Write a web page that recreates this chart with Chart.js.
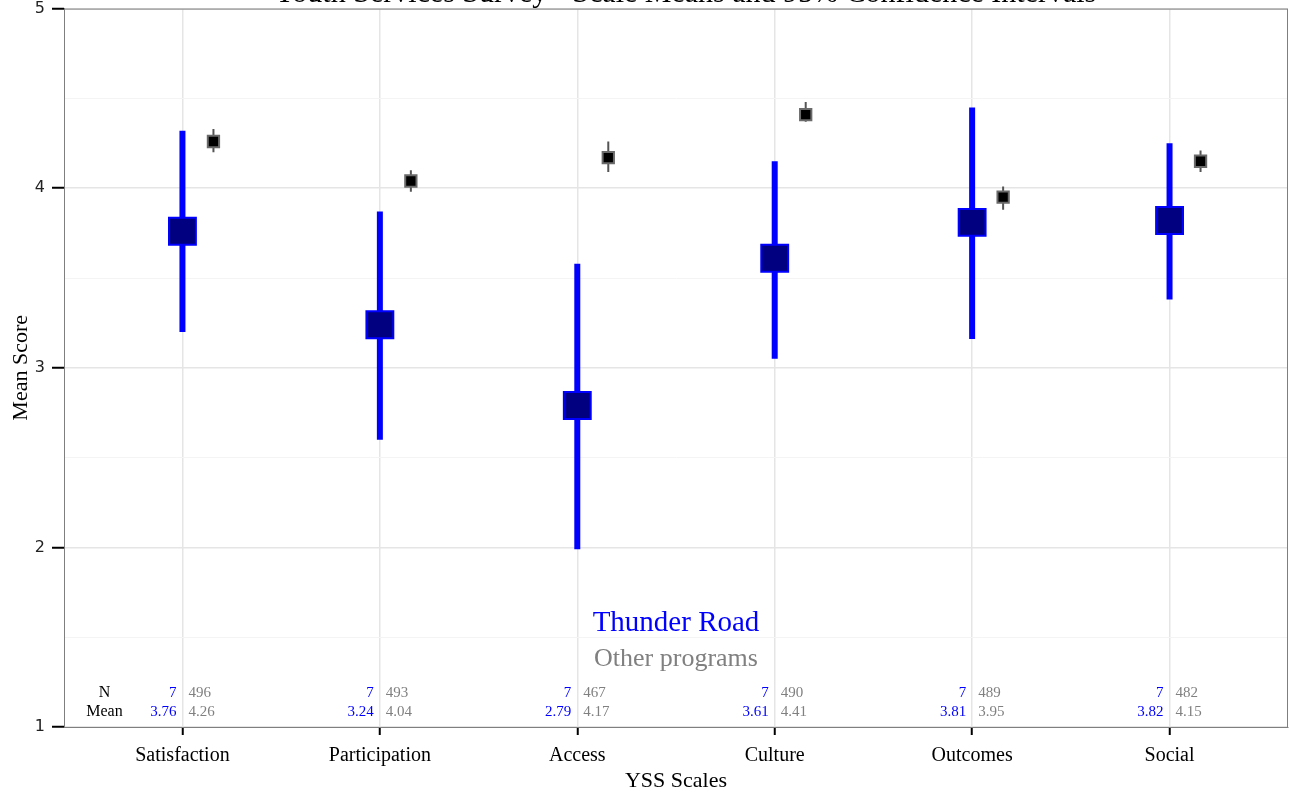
<!DOCTYPE html>
<html>
<head>
<meta charset="utf-8">
<script src="https://cdn.jsdelivr.net/npm/chart.js@4.4.1/dist/chart.umd.min.js"></script>
<style>
  html, body { margin: 0; padding: 0; background: #fff; overflow: hidden; }
  #wrap { width: 1289px; height: 810px; margin-top: -8px; position: relative; }
</style>
</head>
<body>
<div id="wrap"><canvas id="yssChart"></canvas></div>
<script>
const categories = ['Satisfaction', 'Participation', 'Access', 'Culture', 'Outcomes', 'Social'];
const trMean = [3.76, 3.24, 2.79, 3.61, 3.81, 3.82];
const trLow = [3.20, 2.60, 1.99, 3.05, 3.16, 3.38];
const trHigh = [4.32, 3.87, 3.58, 4.15, 4.45, 4.25];
const trN = [7, 7, 7, 7, 7, 7];
const otherMean = [4.26, 4.04, 4.17, 4.41, 3.95, 4.15];
const otherLow = [4.20, 3.98, 4.09, 4.37, 3.88, 4.09];
const otherHigh = [4.33, 4.10, 4.26, 4.48, 4.01, 4.21];
const otherN = [496, 493, 467, 490, 489, 482];
const yTicks = [1, 2, 3, 4, 5];

const DODGE = 0.157;
const SERIF = "'Liberation Serif', 'DejaVu Serif', serif";
const BLUE = '#0000ff';
const GREY = '#808080';

// error bars as broken line segments (null splits them)
function ciSegments(lo, hi, off) {
    const pts = [];
    lo.forEach((v, i) => {
        pts.push({ x: i + 1 + off, y: v }, { x: i + 1 + off, y: hi[i] }, { x: i + 1 + off, y: null });
    });
    return pts;
}

const annotate = {
    id: 'annotate',
    afterDraw(chart) {
        const { ctx, chartArea: a, scales: { x, y } } = chart;
        ctx.save();
        // panel border
        ctx.strokeStyle = '#7f7f7f';
        ctx.lineWidth = 1;
        ctx.strokeRect(a.left + 0.5, a.top + 0.5, a.right - a.left - 1, a.bottom - a.top);

        // title, mostly cut off above the plot
        ctx.fillStyle = '#000';
        ctx.font = `30px ${SERIF}`;
        ctx.textAlign = 'center';
        ctx.textBaseline = 'alphabetic';
        ctx.fillText('Youth Services Survey - Scale Means and 95% Confidence Intervals', (a.left + a.right) / 2 + 9, a.top - 7);

        // legend text
        ctx.fillStyle = BLUE;
        ctx.font = `29px ${SERIF}`;
        ctx.textBaseline = 'middle';
        ctx.fillText('Thunder Road', x.getPixelForValue(3.5), y.getPixelForValue(1.575));
        ctx.fillStyle = GREY;
        ctx.font = `26px ${SERIF}`;
        ctx.fillText('Other programs', x.getPixelForValue(3.5), y.getPixelForValue(1.375));

        // N / Mean table
        const nY = y.getPixelForValue(1.19), mY = y.getPixelForValue(1.085);
        ctx.font = `16px ${SERIF}`;
        ctx.fillStyle = '#000';
        ctx.fillText('N', x.getPixelForValue(1) - 78, nY);
        ctx.fillText('Mean', x.getPixelForValue(1) - 78, mY);
        ctx.font = `15px ${SERIF}`;
        categories.forEach((c, i) => {
            const px = x.getPixelForValue(i + 1);
            ctx.textAlign = 'right';
            ctx.fillStyle = BLUE;
            ctx.fillText(String(trN[i]), px - 6, nY);
            ctx.fillText(trMean[i].toFixed(2), px - 6, mY);
            ctx.textAlign = 'left';
            ctx.fillStyle = GREY;
            ctx.fillText(String(otherN[i]), px + 6, nY);
            ctx.fillText(otherMean[i].toFixed(2), px + 6, mY);
        });

        // axis titles
        ctx.fillStyle = '#000';
        ctx.font = `22px ${SERIF}`;
        ctx.textAlign = 'center';
        ctx.fillText('YSS Scales', (a.left + a.right) / 2, a.bottom + 54);
        ctx.translate(21, (a.top + a.bottom) / 2);
        ctx.rotate(-Math.PI / 2);
        ctx.fillText('Mean Score', 0, 0);
        ctx.restore();
    }
};

const ctx = document.getElementById('yssChart').getContext('2d');
new Chart(ctx, {
    type: 'scatter',
    data: {
        datasets: [
            { label: 'Thunder Road', data: trMean.map((v, i) => ({ x: i + 1, y: v })), pointStyle: 'rect', pointRadius: 19, backgroundColor: '#000080', borderColor: BLUE, borderWidth: 2, order: 0 },
            { label: 'Other programs', data: otherMean.map((v, i) => ({ x: i + 1 + DODGE, y: v })), pointStyle: 'rect', pointRadius: 8, backgroundColor: '#000', borderColor: '#6a6a6a', borderWidth: 2, order: 0 },
            { label: 'TR CI', data: ciSegments(trLow, trHigh, 0), showLine: true, spanGaps: false, pointRadius: 0, borderColor: BLUE, borderWidth: 6, borderCapStyle: 'butt', order: 1 },
            { label: 'Other CI', data: ciSegments(otherLow, otherHigh, DODGE), showLine: true, spanGaps: false, pointRadius: 0, borderColor: '#555', borderWidth: 2, order: 1 }
        ]
    },
    options: {
        responsive: true, maintainAspectRatio: false,
        animation: false, events: [],
        layout: { autoPadding: false, padding: { top: 8, right: 1, left: 0, bottom: 0 } },
        plugins: { legend: { display: false }, tooltip: { enabled: false } },
        scales: {
            x: {
                type: 'linear', min: 0.4, max: 6.6,
                afterBuildTicks: s => { s.ticks = categories.map((c, i) => ({ value: i + 1 })); },
                afterFit: s => { s.height = 75; },
                ticks: { autoSkip: false, maxRotation: 0, padding: 9, color: '#000', font: { family: SERIF, size: 20 }, callback: v => categories[v - 1] },
                grid: { color: '#e5e5e5', lineWidth: 1.5, tickLength: 8, tickColor: '#000', tickWidth: 2 },
                border: { display: true, color: '#7f7f7f', width: 1 }
            },
            y: {
                min: 1, max: 5,
                afterBuildTicks: s => { s.ticks = [1, 1.5, 2, 2.5, 3, 3.5, 4, 4.5, 5].map(v => ({ value: v })); },
                afterFit: s => { s.width = 64; },
                ticks: { autoSkip: false, padding: 7, color: '#222', font: { family: "'DejaVu Sans', sans-serif", size: 16 }, callback: v => yTicks.includes(v) ? String(v) : '' },
                grid: {
                    color: c => Number.isInteger(c.tick.value) ? '#e5e5e5' : '#f4f4f4',
                    lineWidth: c => Number.isInteger(c.tick.value) ? 1.5 : 1,
                    tickLength: 12,
                    tickColor: c => Number.isInteger(c.tick.value) ? '#000' : 'rgba(0,0,0,0)',
                    tickWidth: 2
                },
                border: { display: true, color: '#7f7f7f', width: 1 }
            }
        }
    },
    plugins: [annotate]
});
</script>
</body>
</html>
